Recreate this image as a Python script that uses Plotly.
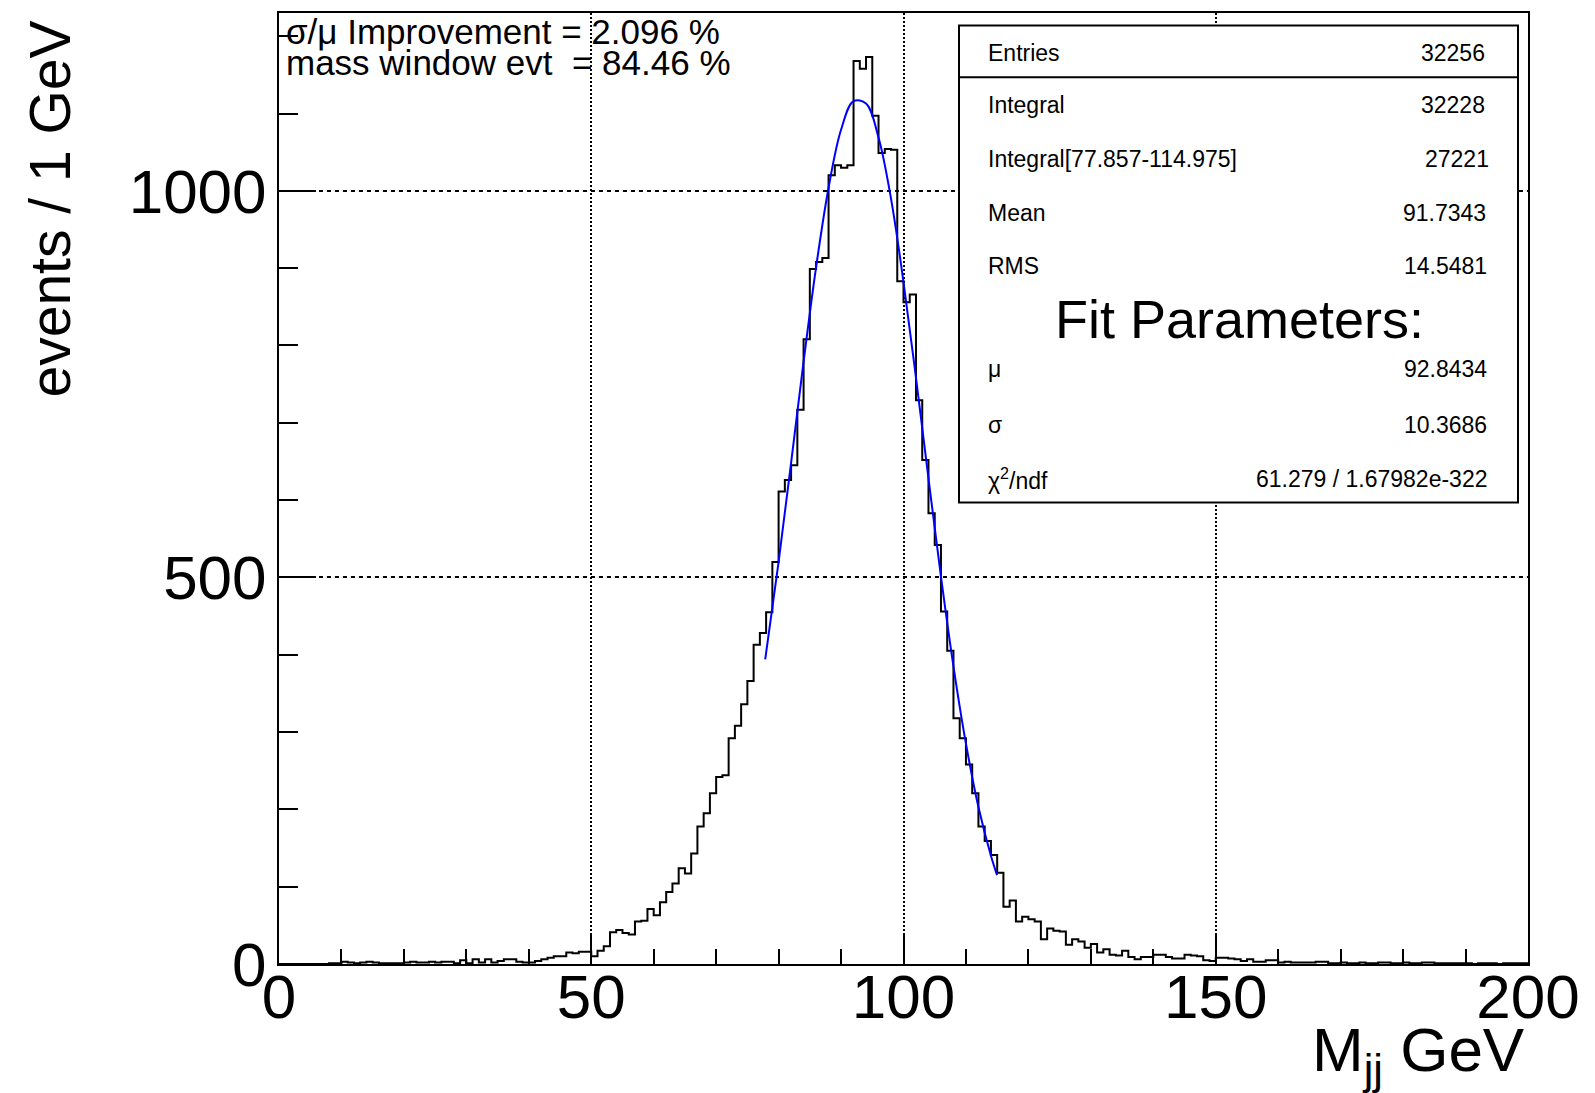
import plotly.graph_objects as go

# ---------------- data ----------------
bin_low = 0
bin_width = 1
counts = [
    0, 0, 0, 0, 0, 0, 0, 0, 1, 1,
    3, 2, 1, 2, 3, 2, 1, 1, 1, 1,
    2, 3, 2, 2, 3, 2, 3, 3, 1, 5,
    1, 6, 2, 6, 2, 4, 6, 6, 3, 2,
    2, 4, 6, 8, 10, 10, 15, 14, 16, 16,
    10, 17, 23, 41, 44, 40, 38, 55, 56, 71,
    63, 80, 93, 104, 124, 117, 143, 178, 195, 221,
    242, 244, 292, 308, 336, 366, 413, 428, 455, 520,
    611, 626, 645, 717, 808, 899, 908, 913, 1020, 1033,
    1030, 1033, 1168, 1158, 1173, 1097, 1049, 1054, 1053, 883,
    856, 866, 729, 652, 583, 542, 456, 405, 318, 292,
    258, 221, 178, 159, 141, 118, 74, 82, 55, 61,
    58, 55, 32, 46, 43, 42, 25, 32, 29, 21,
    26, 15, 19, 12, 11, 17, 9, 6, 9, 9,
    12, 12, 9, 7, 7, 12, 11, 10, 5, 4,
    8, 8, 7, 6, 4, 6, 3, 3, 5, 5,
    2, 3, 2, 2, 2, 2, 3, 3, 1, 1,
    2, 1, 1, 2, 1, 1, 2, 2, 1, 1,
    2, 1, 1, 2, 2, 1, 1, 1, 1, 1,
    1, 0, 1, 1, 1, 0, 1, 1, 1, 1,
]

fit_x = [77.857, 80, 82, 84, 86, 88, 90, 92, 94, 96, 98, 100, 102, 104,
         106, 108, 110, 112, 114, 114.975]
fit_y = [394, 520, 648, 779, 901, 1004, 1079, 1116, 1113, 1069, 990, 882,
         758, 628, 501, 385, 285, 203, 140, 115]

x_tickvals = [0, 50, 100, 150, 200]
x_ticktext = ["0", "50", "100", "150", "200"]
y_tickvals = [0, 500, 1000]
y_ticktext = ["0", "500", "1000"]

x_title = "M<sub>jj</sub> GeV"
y_title = "events / 1 GeV"

info_lines = ["σ/μ Improvement = 2.096 %", "mass window evt\u00a0 = 84.46 %"]

stats_labels = ["Entries", "Integral", "Integral[77.857-114.975]", "Mean", "RMS"]
stats_values = ["32256", "32228", "27221", "91.7343", "14.5481"]
fit_header = "Fit Parameters:"
fit_labels = ["μ", "σ", "χ<sup>2</sup>/ndf"]
fit_values = ["92.8434", "10.3686", "61.279 / 1.67982e-322"]

# ---------------- layout geometry ----------------
W, H = 1595, 1093
ML, MR, MT, MB = 279, 67, 13, 129
PW, PH = W - ML - MR, H - MT - MB
FONT = "Liberation Sans, Arial, Helvetica, sans-serif"


def px(x):
    return (x - ML) / PW


def py(y):
    return (H - MB - y) / PH


edges = [bin_low + i * bin_width for i in range(len(counts) + 1)]
hist_y = counts + [counts[-1]]

fig = go.Figure()
fig.add_trace(go.Scatter(
    x=edges, y=hist_y, mode="lines",
    line=dict(shape="hv", color="black", width=2),
    hoverinfo="skip", showlegend=False,
))
fig.add_trace(go.Scatter(
    x=fit_x, y=fit_y, mode="lines",
    line=dict(shape="spline", color="#0000ff", width=2),
    hoverinfo="skip", showlegend=False,
))

axis_common = dict(
    showline=True, linecolor="black", linewidth=2, mirror=True,
    ticks="inside", tickcolor="black", tickwidth=2,
    showgrid=True, gridcolor="black", gridwidth=2,
    zeroline=False, tickfont=dict(family=FONT, size=62, color="black"),
    tickmode="array",
)

fig.update_layout(
    width=W, height=H,
    margin=dict(l=ML, r=MR, t=MT, b=MB, autoexpand=False),
    paper_bgcolor="white", plot_bgcolor="white",
    font=dict(family=FONT, color="black"),
    xaxis=dict(
        range=[0, 200], tickvals=x_tickvals, ticktext=x_ticktext,
        ticklen=30, griddash="2px,2px", ticklabelstandoff=-22,
        minor=dict(dtick=10, tick0=0, ticklen=15, tickwidth=2,
                   tickcolor="black", ticks="inside", showgrid=False),
        **axis_common,
    ),
    yaxis=dict(
        range=[0, 1230], tickvals=y_tickvals, ticktext=y_ticktext,
        ticklen=37, griddash="4px,4px", ticklabelstandoff=-2,
        minor=dict(dtick=100, tick0=0, ticklen=19, tickwidth=2,
                   tickcolor="black", ticks="inside", showgrid=False),
        **axis_common,
    ),
)

# stats box
box_l, box_r, box_t, box_b, box_sep = 959, 1518, 25.4, 502.5, 77.3
fig.add_shape(type="rect", xref="paper", yref="paper",
              x0=px(box_l), x1=px(box_r), y0=py(box_b), y1=py(box_t),
              line=dict(color="black", width=2), fillcolor="white", layer="above")
fig.add_shape(type="line", xref="paper", yref="paper",
              x0=px(box_l), x1=px(box_r), y0=py(box_sep), y1=py(box_sep),
              line=dict(color="black", width=2), layer="above")

ann = []
stat_rows_y = [52.9, 104.8, 158.7, 212.6, 265.5]
value_right = [1487, 1487, 1491, 1488, 1489]
for lab, val, yy, xr in zip(stats_labels, stats_values, stat_rows_y, value_right):
    ann.append(dict(text=lab, x=px(986), y=py(yy), xanchor="left", yanchor="middle",
                    font=dict(size=23)))
    ann.append(dict(text=val, x=px(xr), y=py(yy), xanchor="right", yanchor="middle",
                    font=dict(size=23)))
ann.append(dict(text=fit_header, x=px(1239), y=py(319.4), xanchor="center",
                yanchor="middle", font=dict(size=54)))
fit_rows_y = [369, 425.2, 479.1]
for lab, val, yy in zip(fit_labels, fit_values, fit_rows_y):
    ann.append(dict(text=lab, x=px(986), y=py(yy), xanchor="left", yanchor="middle",
                    font=dict(size=23)))
    ann.append(dict(text=val, x=px(1489), y=py(yy), xanchor="right", yanchor="middle",
                    font=dict(size=23)))

# info text top-left
for line, yy in zip(info_lines, [31.5, 62]):
    ann.append(dict(text=line, x=px(284), y=py(yy), xanchor="left", yanchor="middle",
                    font=dict(size=35)))

# axis titles
ann.append(dict(text=x_title, x=px(1527), y=py(1054), xanchor="right",
                yanchor="middle", font=dict(size=62)))
ann.append(dict(text=y_title, x=px(50), y=py(19), xanchor="center",
                yanchor="top", textangle=-90, font=dict(size=57)))

for a in ann:
    a.update(xref="paper", yref="paper", showarrow=False)
    a["font"].update(family=FONT, color="black")
fig.update_layout(annotations=ann)

fig.write_html("out.html")
